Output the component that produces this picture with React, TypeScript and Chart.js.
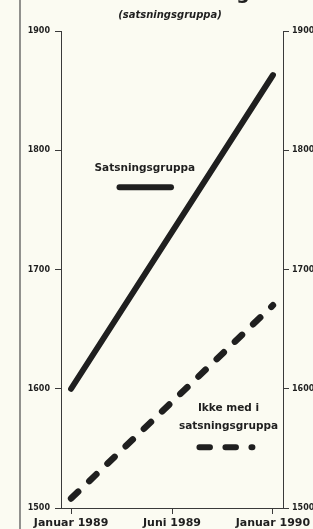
import { useEffect, useRef } from "react";
import { Chart, registerables } from "chart.js";

Chart.register(...registerables);

// ---- data ----
const categories = ["Januar 1989", "Juni 1989", "Januar 1990"];
const categoryIndex = [0, 1, 2];
const satsX = [0, 2];
const satsValues = [1600, 1863];
const ikkeX = [0, 2];
const ikkeValues = [1508, 1670];
const yTicks = [1500, 1600, 1700, 1800, 1900];
const titleText = "Lønnsutvikling";
const subtitleText = "(satsningsgruppa)";
const satsName = ["Satsningsgruppa"];
const ikkeName = ["Ikke med i", "satsningsgruppa"];

// ---- annotation anchors (data coordinates) ----
const satsLabelAt = { x: 0.73, y: 1785 };
const satsKey = { x0: 0.48, x1: 0.99, y: 1769 };
const ikkeLabelAt = { x: 1.56, y: 1584, lineStep: 18 };
const ikkeKey = { x0: 1.272, x1: 1.797, y: 1551 };

const INK = "#1f1f1f";
const AXIS = "#3a3a3a";
const BG = "#fbfbf2";
const FONT = "'DejaVu Sans', sans-serif";

const decorPlugin = {
  id: "decor",
  beforeDraw(chart: any) {
    const { ctx, width, height } = chart;
    ctx.save();
    ctx.fillStyle = BG;
    ctx.fillRect(0, 0, width, height);
    // frame line on left
    ctx.strokeStyle = "#4a4a4a";
    ctx.lineWidth = 1.2;
    ctx.beginPath();
    ctx.moveTo(20, 0);
    ctx.lineTo(20, height);
    ctx.stroke();
    // title (cut by top edge)
    ctx.fillStyle = INK;
    ctx.textAlign = "center";
    ctx.textBaseline = "alphabetic";
    ctx.font = `bold 19px ${FONT}`;
    ctx.fillText(titleText, 171, -1);
    ctx.font = `italic bold 10px ${FONT}`;
    ctx.textBaseline = "middle";
    ctx.fillText(subtitleText, 170, 15);
    ctx.restore();
  },
  afterDatasetsDraw(chart: any) {
    const { ctx, scales } = chart;
    const xs = scales.x;
    const ys = scales.y;
    ctx.save();
    ctx.fillStyle = INK;
    ctx.textAlign = "center";
    ctx.textBaseline = "middle";
    ctx.font = `bold 10.5px ${FONT}`;
    satsName.forEach((t, i) => {
      ctx.fillText(t, xs.getPixelForValue(satsLabelAt.x), ys.getPixelForValue(satsLabelAt.y) + i * 15);
    });
    ikkeName.forEach((t, i) => {
      ctx.fillText(t, xs.getPixelForValue(ikkeLabelAt.x), ys.getPixelForValue(ikkeLabelAt.y) + i * ikkeLabelAt.lineStep);
    });
    ctx.strokeStyle = INK;
    ctx.lineCap = "round";
    ctx.lineWidth = 6;
    ctx.beginPath();
    ctx.moveTo(xs.getPixelForValue(satsKey.x0), ys.getPixelForValue(satsKey.y));
    ctx.lineTo(xs.getPixelForValue(satsKey.x1), ys.getPixelForValue(satsKey.y));
    ctx.stroke();
    ctx.setLineDash([10.5, 15.5]);
    ctx.beginPath();
    ctx.moveTo(xs.getPixelForValue(ikkeKey.x0), ys.getPixelForValue(ikkeKey.y));
    ctx.lineTo(xs.getPixelForValue(ikkeKey.x1), ys.getPixelForValue(ikkeKey.y));
    ctx.stroke();
    ctx.restore();
  },
};

const yAxis = (position: "left" | "right", w: number, pad: number) => ({
  type: "linear" as const,
  position,
  min: 1500,
  max: 1900,
  afterBuildTicks: (s: any) => {
    s.ticks = yTicks.map((v) => ({ value: v }));
  },
  afterFit: (s: any) => {
    s.width = w;
  },
  ticks: {
    color: INK,
    font: { family: FONT, weight: "bold" as const, size: 8 },
    padding: pad,
    callback: (v: any) => String(v),
  },
  grid: { drawOnChartArea: false, drawTicks: true, tickLength: 6, color: AXIS, lineWidth: 1 },
  border: { display: true, color: AXIS, width: 1 },
});

export default function App() {
  const ref = useRef<HTMLCanvasElement>(null);
  useEffect(() => {
    if (!ref.current) return;
    const chart = new Chart(ref.current, {
      type: "line",
      data: {
        datasets: [
          {
            label: satsName[0],
            data: satsX.map((x, i) => ({ x, y: satsValues[i] })),
            borderColor: INK,
            borderWidth: 6,
            borderCapStyle: "round",
            pointRadius: 0,
            tension: 0,
          },
          {
            label: ikkeName.join(" "),
            data: ikkeX.map((x, i) => ({ x, y: ikkeValues[i] })),
            borderColor: INK,
            borderWidth: 6.5,
            borderCapStyle: "round",
            borderDash: [9.8, 15.4],
            pointRadius: 0,
            tension: 0,
          },
        ],
      },
      options: {
        animation: false,
        responsive: false,
        maintainAspectRatio: false,
        layout: { padding: { top: 31, left: 0, right: 0, bottom: 0 } },
        plugins: { legend: { display: false }, tooltip: { enabled: false }, title: { display: false } },
        scales: {
          x: {
            type: "linear",
            min: -0.1,
            max: 2.1,
            afterBuildTicks: (s: any) => {
              s.ticks = categoryIndex.map((v) => ({ value: v }));
            },
            afterFit: (s: any) => {
              s.height = 21;
              s.paddingLeft = 0;
              s.paddingRight = 0;
            },
            ticks: {
              color: INK,
              font: { family: FONT, weight: "bold", size: 11 },
              padding: 3,
              maxRotation: 0,
              autoSkip: false,
              callback: (v: any) => categories[Math.round(v)] ?? "",
            },
            grid: { drawOnChartArea: false, drawTicks: true, tickLength: 6, color: AXIS, lineWidth: 1 },
            border: { display: true, color: AXIS, width: 1 },
          },
          y: yAxis("left", 61, 5),
          y2: yAxis("right", 30, 3),
        },
      },
      plugins: [decorPlugin],
    } as any);
    return () => chart.destroy();
  }, []);
  return (
    <div style={{ position: "fixed", left: 0, top: 0, width: 313, height: 529, background: BG }}>
      <canvas ref={ref} width={313} height={529} style={{ display: "block", width: 313, height: 529 }} />
    </div>
  );
}
